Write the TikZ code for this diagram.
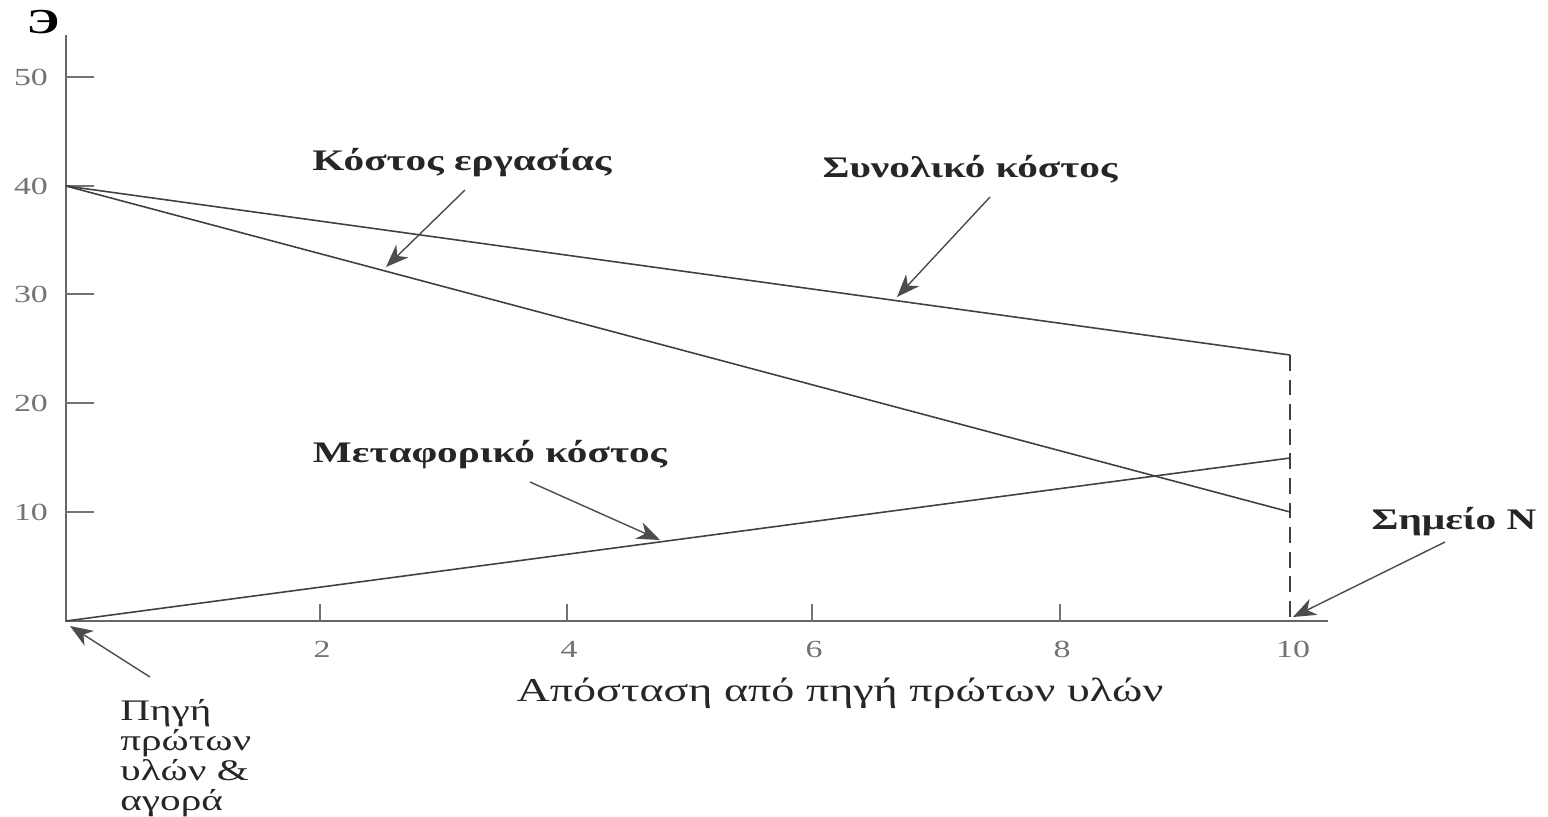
\documentclass[tikz,border=0pt]{standalone}
\usepackage{fontspec}
\setmainfont[FakeStretch=1.38]{Liberation Serif}
\usetikzlibrary{arrows.meta}
\tikzset{
  axis/.style={draw=black!60, line width=1.2pt},
  curve/.style={draw=black!75, line width=0.9pt},
  pointer/.style={draw=black!70, line width=0.8pt, -{Stealth[length=13pt, width=10pt, inset=4pt]}},
  lbl/.style={font=\fontsize{17}{20}\selectfont\bfseries, text=black!85, inner sep=0pt},
  num/.style={font=\fontsize{14}{16}\selectfont, text=black!55, inner sep=0pt},
  tick/.style={draw=black!55, line width=1pt},
}
\begin{document}
\begin{tikzpicture}[x=0.02cm, y=-0.02cm]
\useasboundingbox (0,0) rectangle (1548,816);
% axes
\coordinate (O) at (66,621);
\coordinate (ytop) at (66,35);
\coordinate (xend) at (1328,621);
\draw[axis] (ytop) -- (O) -- (xend);
\node[font=\fontsize{20}{22}\selectfont\bfseries, inner sep=0pt] (E) at (43,22) {Э};
% y ticks
\foreach \v/\py in {50/77,40/186,30/294,20/403,10/512}{
  \draw[tick] (66,\py) -- (94,\py);
  \node[num] (y\v) at (31,\py) {\v};
}
% x ticks
\foreach \v/\px in {2/320,4/567,6/812,8/1060}{
  \draw[tick] (\px,621) -- (\px,604);
  \node[num] (x\v) at (\px+2,649) {\v};
}
\node[num] (x10) at (1293,649) {10};
% curves
\coordinate (A40) at (66,186);
\coordinate (T10) at (1290,355);
\coordinate (L10) at (1290,512);
\coordinate (M10) at (1290,458);
\coordinate (N) at (1290,621);
\draw[curve] (A40) -- (T10);
\draw[curve] (A40) -- (L10);
\draw[curve] (O) -- (M10);
\draw[curve, dashed, dash pattern=on 9pt off 5pt] (T10) -- (N);
% labels
\node[lbl] (lab) at (462,163) {Κόστος εργασίας};
\node[lbl] (tot) at (970,169) {Συνολικό κόστος};
\node[lbl] (tra) at (490,455) {Μεταφορικό κόστος};
\node[lbl] (sn) at (1454,522) {Σημείο N};
\node[font=\fontsize{19}{22}\selectfont, text=black!85, inner sep=0pt] (xt) at (840,693) {Απόσταση από πηγή πρώτων υλών};
\node[font=\fontsize{17}{17}\selectfont, text=black!85, inner sep=0pt, align=left, anchor=north west] (src) at (120,699) {Πηγή\\πρώτων\\υλών \&\\αγορά};
% pointers
\coordinate (p1s) at (465,190); \coordinate (p1e) at (386,267);
\coordinate (p2s) at (990,197); \coordinate (p2e) at (897,297);
\coordinate (p3s) at (530,482); \coordinate (p3e) at (660,540);
\coordinate (p4s) at (1445,542); \coordinate (p4e) at (1293,617);
\coordinate (p5s) at (150,677); \coordinate (p5e) at (70,626);
\draw[pointer] (p1s) -- (p1e);
\draw[pointer] (p2s) -- (p2e);
\draw[pointer] (p3s) -- (p3e);
\draw[pointer] (p4s) -- (p4e);
\draw[pointer] (p5s) -- (p5e);
\end{tikzpicture}
\end{document}
